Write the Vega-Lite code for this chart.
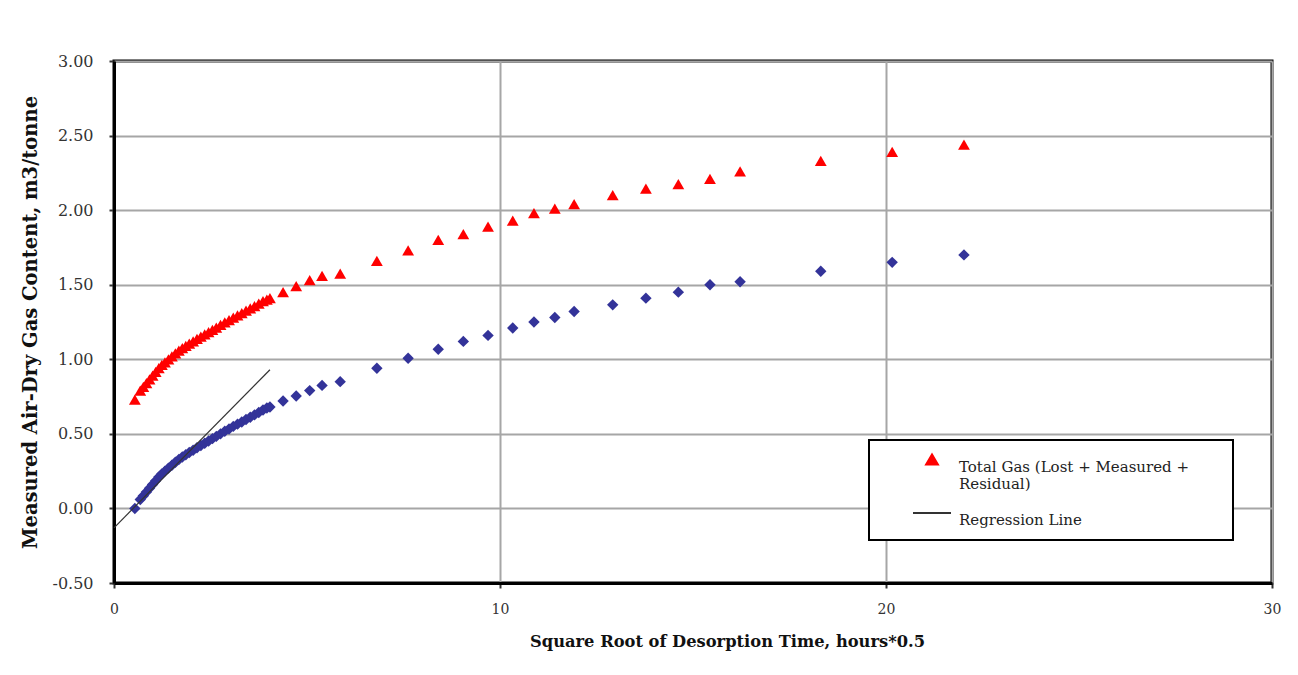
{
  "$schema": "https://vega.github.io/schema/vega-lite/v6.json",
  "width": 1158,
  "height": 522,
  "autosize": {"type": "none"},
  "padding": {"left": 114, "top": 61, "right": 26, "bottom": 92},
  "background": "white",
  "config": {
    "view": {"stroke": "black", "strokeWidth": 3},
    "axis": {
      "domainColor": "black",
      "domainWidth": 3,
      "gridColor": "#a6a6a6",
      "gridWidth": 2,
      "tickColor": "#333333",
      "tickWidth": 2,
      "tickSize": 5,
      "labelColor": "#333333",
      "labelFlush": false,
      "titleColor": "#111111",
      "titleFont": "DejaVu Serif",
      "titleFontWeight": "bold"
    },
    "legend": {
      "labelLimit": 500,
      "strokeWidth": 2,
      "symbolStrokeWidth": 2
    }
  },
  "datasets": {
    "gas": [
      {"x": 0.54, "measured": 0.00, "total": 0.73},
      {"x": 0.68, "measured": 0.06, "total": 0.79},
      {"x": 0.76, "measured": 0.085, "total": 0.815},
      {"x": 0.84, "measured": 0.11, "total": 0.84},
      {"x": 0.92, "measured": 0.135, "total": 0.865},
      {"x": 1.00, "measured": 0.16, "total": 0.89},
      {"x": 1.08, "measured": 0.185, "total": 0.915},
      {"x": 1.16, "measured": 0.21, "total": 0.94},
      {"x": 1.24, "measured": 0.232, "total": 0.962},
      {"x": 1.32, "measured": 0.25, "total": 0.98},
      {"x": 1.41, "measured": 0.27, "total": 1.00},
      {"x": 1.50, "measured": 0.29, "total": 1.02},
      {"x": 1.59, "measured": 0.31, "total": 1.04},
      {"x": 1.68, "measured": 0.328, "total": 1.058},
      {"x": 1.77, "measured": 0.345, "total": 1.075},
      {"x": 1.86, "measured": 0.36, "total": 1.09},
      {"x": 1.95, "measured": 0.375, "total": 1.105},
      {"x": 2.05, "measured": 0.39, "total": 1.12},
      {"x": 2.15, "measured": 0.407, "total": 1.137},
      {"x": 2.25, "measured": 0.422, "total": 1.152},
      {"x": 2.35, "measured": 0.437, "total": 1.167},
      {"x": 2.45, "measured": 0.452, "total": 1.182},
      {"x": 2.55, "measured": 0.468, "total": 1.198},
      {"x": 2.65, "measured": 0.483, "total": 1.213},
      {"x": 2.76, "measured": 0.50, "total": 1.23},
      {"x": 2.87, "measured": 0.517, "total": 1.247},
      {"x": 2.98, "measured": 0.533, "total": 1.263},
      {"x": 3.09, "measured": 0.55, "total": 1.28},
      {"x": 3.20, "measured": 0.565, "total": 1.295},
      {"x": 3.31, "measured": 0.58, "total": 1.31},
      {"x": 3.42, "measured": 0.596, "total": 1.326},
      {"x": 3.53, "measured": 0.611, "total": 1.341},
      {"x": 3.64, "measured": 0.627, "total": 1.357},
      {"x": 3.75, "measured": 0.643, "total": 1.373},
      {"x": 3.86, "measured": 0.66, "total": 1.39},
      {"x": 3.96, "measured": 0.673, "total": 1.40},
      {"x": 4.04, "measured": 0.68, "total": 1.41},
      {"x": 4.38, "measured": 0.72, "total": 1.45},
      {"x": 4.72, "measured": 0.754, "total": 1.49},
      {"x": 5.07, "measured": 0.79, "total": 1.53},
      {"x": 5.39, "measured": 0.825, "total": 1.56},
      {"x": 5.86, "measured": 0.85, "total": 1.575},
      {"x": 6.81, "measured": 0.94, "total": 1.66},
      {"x": 7.62, "measured": 1.007, "total": 1.73},
      {"x": 8.40, "measured": 1.067, "total": 1.80},
      {"x": 9.05, "measured": 1.12, "total": 1.84},
      {"x": 9.69, "measured": 1.16, "total": 1.89},
      {"x": 10.33, "measured": 1.21, "total": 1.93},
      {"x": 10.88, "measured": 1.25, "total": 1.98},
      {"x": 11.42, "measured": 1.28, "total": 2.01},
      {"x": 11.92, "measured": 1.32, "total": 2.04},
      {"x": 12.92, "measured": 1.365, "total": 2.10},
      {"x": 13.78, "measured": 1.41, "total": 2.145},
      {"x": 14.62, "measured": 1.45, "total": 2.175},
      {"x": 15.44, "measured": 1.50, "total": 2.21},
      {"x": 16.22, "measured": 1.52, "total": 2.26},
      {"x": 18.31, "measured": 1.59, "total": 2.33},
      {"x": 20.16, "measured": 1.65, "total": 2.39},
      {"x": 22.02, "measured": 1.70, "total": 2.44}
    ],
    "reg": [
      {"x": 0, "y": -0.13},
      {"x": 4.04, "y": 0.93}
    ]
  },
  "layer": [
    {
      "data": {"name": "gas"},
      "mark": {"type": "point", "shape": "diamond", "filled": true, "size": 130, "color": "#333399", "opacity": 1},
      "encoding": {
        "x": {
          "field": "x", "type": "quantitative",
          "scale": {"domain": [0, 30], "nice": false},
          "axis": {
            "values": [0, 10, 20, 30],
            "labelFont": "DejaVu Serif",
            "labelFontSize": 14,
            "labelPadding": 14,
            "title": "Square Root of Desorption Time, hours*0.5",
            "titleFontSize": 16.3,
            "titleX": 613,
            "titleY": 58,
            "titleBaseline": "middle"
          }
        },
        "y": {
          "field": "measured", "type": "quantitative",
          "scale": {"domain": [-0.5, 3], "nice": false, "zero": false},
          "axis": {
            "values": [-0.5, 0, 0.5, 1, 1.5, 2, 2.5, 3],
            "labelExpr": "replace(format(datum.value, '.2f'), '\u2212', '-')",
            "labelFont": "DejaVu Serif",
            "labelFontSize": 16,
            "labelPadding": 16,
            "title": "Measured Air-Dry Gas Content, m3/tonne",
            "titleFontSize": 19.5,
            "titleX": -84,
            "titleY": 261,
            "titleBaseline": "middle"
          }
        }
      }
    },
    {
      "data": {"name": "gas"},
      "mark": {"type": "point", "filled": true, "opacity": 1},
      "encoding": {
        "x": {"field": "x", "type": "quantitative"},
        "y": {"field": "total", "type": "quantitative"},
        "color": {
          "datum": "Total Gas (Lost + Measured + Residual)",
          "type": "nominal",
          "scale": {"domain": ["Total Gas (Lost + Measured + Residual)", "Regression Line"], "range": ["#ff0000", "#333333"]},
          "legend": {
            "title": "\u00a0",
            "titleOrient": "right",
            "titlePadding": 32,
            "titleFontSize": 10,
            "orient": "none",
            "legendX": 755,
            "legendY": 379,
            "fillColor": "white",
            "strokeColor": "black",
            "padding": 12,
            "symbolOffset": 31,
            "labelFont": "DejaVu Serif",
            "labelFontSize": 15,
            "labelColor": "#222222",
            "labelOffset": 7,
            "labelBaseline": "top",
            "labelLimit": 500,
            "rowPadding": 1,
            "labelExpr": "datum.label == 'Total Gas (Lost + Measured + Residual)' ? ['Total Gas (Lost + Measured +', 'Residual)'] : datum.label"
          }
        },
        "shape": {
          "datum": "Total Gas (Lost + Measured + Residual)",
          "type": "nominal",
          "scale": {"domain": ["Total Gas (Lost + Measured + Residual)", "Regression Line"], "range": ["triangle-up", "stroke"]},
          "legend": {
            "title": "\u00a0",
            "titleOrient": "right",
            "titlePadding": 32,
            "titleFontSize": 10,
            "orient": "none",
            "legendX": 755,
            "legendY": 379,
            "fillColor": "white",
            "strokeColor": "black",
            "padding": 12,
            "symbolOffset": 31,
            "labelFont": "DejaVu Serif",
            "labelFontSize": 15,
            "labelColor": "#222222",
            "labelOffset": 7,
            "labelBaseline": "top",
            "labelLimit": 500,
            "rowPadding": 1,
            "labelExpr": "datum.label == 'Total Gas (Lost + Measured + Residual)' ? ['Total Gas (Lost + Measured +', 'Residual)'] : datum.label"
          }
        },
        "size": {
          "datum": "Total Gas (Lost + Measured + Residual)",
          "type": "nominal",
          "scale": {"type": "ordinal", "domain": ["Total Gas (Lost + Measured + Residual)", "Regression Line"], "range": [140, 1444]},
          "legend": {
            "title": "\u00a0",
            "titleOrient": "right",
            "titlePadding": 32,
            "titleFontSize": 10,
            "orient": "none",
            "legendX": 755,
            "legendY": 379,
            "fillColor": "white",
            "strokeColor": "black",
            "padding": 12,
            "symbolOffset": 31,
            "labelFont": "DejaVu Serif",
            "labelFontSize": 15,
            "labelColor": "#222222",
            "labelOffset": 7,
            "labelBaseline": "top",
            "labelLimit": 500,
            "rowPadding": 1,
            "labelExpr": "datum.label == 'Total Gas (Lost + Measured + Residual)' ? ['Total Gas (Lost + Measured +', 'Residual)'] : datum.label"
          }
        }
      }
    },
    {
      "data": {"name": "reg"},
      "mark": {"type": "line", "strokeWidth": 1.2},
      "encoding": {
        "x": {"field": "x", "type": "quantitative"},
        "y": {"field": "y", "type": "quantitative"},
        "color": {"datum": "Regression Line", "type": "nominal"}
      }
    }
  ]
}
